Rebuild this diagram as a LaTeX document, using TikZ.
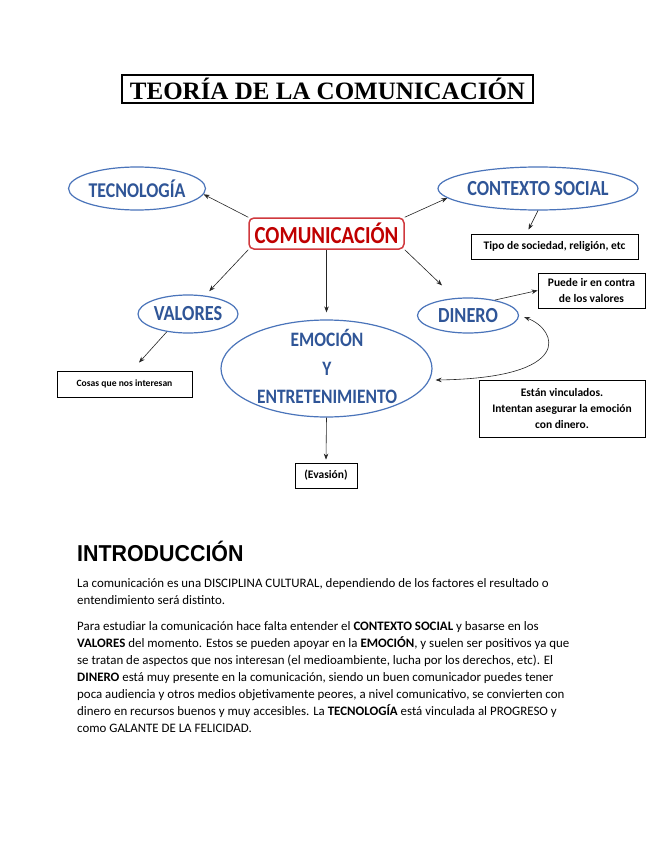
\documentclass[tikz,border=0pt]{standalone}
\usepackage{fontspec}
\setmainfont{Carlito}
\newfontfamily\titlefont{Liberation Serif}
\newfontfamily\arialfont{Liberation Sans}
\usetikzlibrary{shapes.geometric,arrows.meta}
\definecolor{hdblue}{HTML}{2F5597}
\definecolor{elblue}{HTML}{4A74BA}
\definecolor{comred}{HTML}{C00000}
\definecolor{boxred}{HTML}{D0393E}
\newcommand{\hdtext}[2]{\scalebox{0.85}[1]{\fontsize{#1}{#1}\selectfont\bfseries #2}}
\newcommand{\sxtext}[1]{\scalebox{0.85}[1]{#1}}
\tikzset{
 ell/.style={ellipse, draw=elblue, line width=1.2pt, inner sep=0pt, text=hdblue},
 infobox/.style={draw=black, line width=0.8pt, inner sep=0pt, align=center, font=\fontsize{11.5}{16}\selectfont\bfseries},
 arr/.style={-{Stealth[length=6pt,width=4.5pt]}, line width=0.6pt, draw=black!85},
 twoarr/.style={{Stealth[length=6pt,width=4.5pt]}-{Stealth[length=6pt,width=4.5pt]}, line width=0.6pt, draw=black!85},
 para/.style={anchor=base west, inner sep=0pt, font=\fontsize{12.9}{15}\selectfont},
}
\begin{document}
\begin{tikzpicture}[x=1pt,y=-1pt]
\useasboundingbox[fill=white] (0,0) rectangle (655,848);
% title
\node[draw, line width=1.4pt, minimum width=411, minimum height=28, inner sep=0pt] (title) at (327.5,89)
  {\titlefont\fontsize{25}{25}\selectfont\bfseries TEORÍA DE LA COMUNICACIÓN};
% concept nodes
\node[draw=boxred, line width=1.5pt, rounded corners=5pt, minimum width=155, minimum height=31, inner sep=0pt, text=comred] (com) at (326.5,233.5) {\hdtext{24.5}{COMUNICACIÓN}};
\node[ell, minimum width=120, minimum height=43] (tec) at (137,188.5) {\hdtext{21}{TECNOLOGÍA}};
\node[ell, minimum width=170, minimum height=43] (ctx) at (538,188.5) {\hdtext{21.5}{CONTEXTO SOCIAL}};
\node[ell, minimum width=100, minimum height=38] (val) at (188,314) {\hdtext{21.5}{VALORES}};
\node[ell, minimum width=101, minimum height=35] (din) at (468,315.5) {\hdtext{21.5}{DINERO}};
\node[ell, minimum width=211, minimum height=97] (emo) at (326.5,368.5) {};
\node[text=hdblue, align=center, inner sep=0pt, font=\fontsize{20.5}{28.5}\selectfont\bfseries] (emot) at (327,366.5)
  {\sxtext{EMOCIÓN}\\\sxtext{Y}\\\sxtext{ENTRETENIMIENTO}};
% info boxes
\node[infobox, minimum width=167, minimum height=25] (tipo) at (554.5,246.5) {Tipo de sociedad, religión, etc};
\node[infobox, minimum width=107, minimum height=35] (puede) at (591.5,290.5) {Puede ir en contra\\de los valores};
\node[infobox, minimum width=135, minimum height=26, font=\fontsize{9.6}{12}\selectfont\bfseries] (cosas) at (124.5,384) {Cosas que nos interesan};
\node[infobox, minimum width=166, minimum height=57] (estan) at (562,408.5) {Están vinculados.\\Intentan asegurar la emoción\\con dinero.};
\node[infobox, minimum width=62, minimum height=25] (evas) at (326,475.5) {(Evasión)};
% connectors
\draw[arr] (com.north west) -- (tec.-5);
\draw[arr] (com.north east) -- (ctx.186);
\draw[arr] (ctx.south) -- ([xshift=-26pt,yshift=4pt]tipo.north);
\draw[arr] (com.south west) -- ([yshift=5pt]val.40);
\draw[arr] (com.south) -- ([yshift=7pt]emo.north);
\draw[arr] (com.south east) -- ([xshift=-26pt,yshift=12pt]din.north);
\draw[arr] (din.30) -- (puede.west);
\draw[arr] (val.-140) -- ([xshift=14.5pt,yshift=8pt]cosas.north);
\draw[arr] (emo.south) -- ([yshift=3pt]evas.north);
\draw[twoarr] ([xshift=5pt,yshift=-1.5pt]din.east) .. controls (558,330) and (575,378) .. ([xshift=3pt,yshift=-11.5pt]emo.east);
% text
\node[para] (intro) at (77,561) {\scalebox{0.93}[1]{\arialfont\fontsize{23}{23}\selectfont\bfseries INTRODUCCIÓN}};
\node[para] (p1) at (77,587) {La comunicación es una DISCIPLINA CULTURAL, dependiendo de los factores el resultado o};
\node[para] (p2) at (77,604) {entendimiento será distinto.};
\node[para] (q1) at (77,630) {Para estudiar la comunicación hace falta entender el \textbf{CONTEXTO SOCIAL} y basarse en los};
\node[para] (q2) at (77,647) {\textbf{VALORES} del momento. Estos se pueden apoyar en la \textbf{EMOCIÓN}, y suelen ser positivos ya que};
\node[para] (q3) at (77,664) {se tratan de aspectos que nos interesan (el medioambiente, lucha por los derechos, etc). El};
\node[para] (q4) at (77,681) {\textbf{DINERO} está muy presente en la comunicación, siendo un buen comunicador puedes tener};
\node[para] (q5) at (77,698) {poca audiencia y otros medios objetivamente peores, a nivel comunicativo, se convierten con};
\node[para] (q6) at (77,715) {dinero en recursos buenos y muy accesibles. La \textbf{TECNOLOGÍA} está vinculada al PROGRESO y};
\node[para] (q7) at (77,732) {como GALANTE DE LA FELICIDAD.};
\end{tikzpicture}
\end{document}
